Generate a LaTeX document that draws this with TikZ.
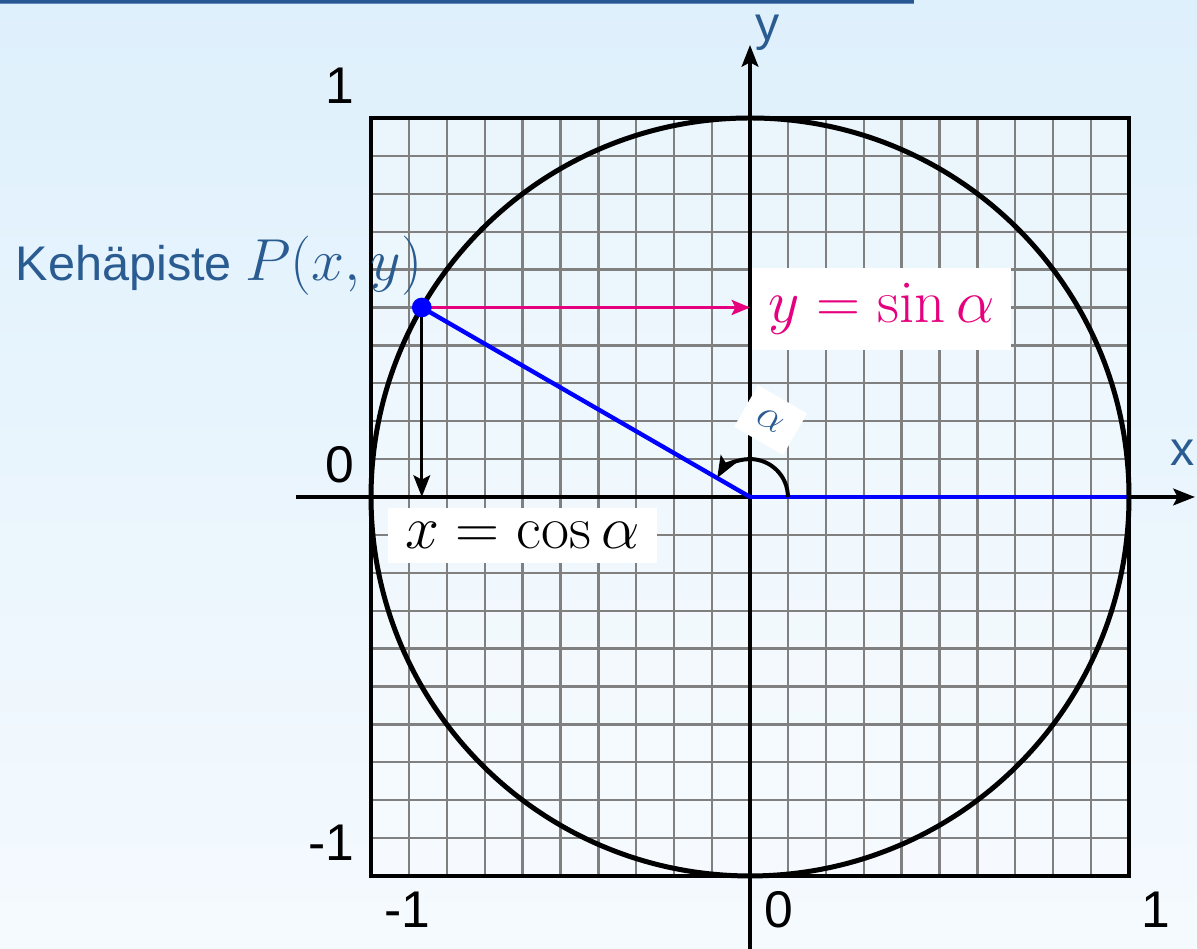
\RequirePackage{fix-cm}
\documentclass[tikz,border=0pt]{standalone}
\usepackage{fontspec}
\setsansfont{Liberation Sans}
\usetikzlibrary{arrows.meta,calc}
\definecolor{bgtop}{RGB}{222,240,252}
\definecolor{bgbot}{RGB}{245,250,254}
\definecolor{kblue}{RGB}{42,92,145}
\definecolor{mag}{RGB}{230,0,126}
\definecolor{topbar}{RGB}{40,88,145}
\definecolor{topbarlight}{RGB}{95,135,185}
\begin{document}
\begin{tikzpicture}[x=4cm,y=4cm,
  tip/.style={-{Stealth[length=6.5pt,width=5pt,inset=1.3pt]}},
  sanslbl/.style={font=\sffamily\fontsize{15.5}{18}\selectfont, inner sep=0pt},
  axlbl/.style={font=\sffamily\fontsize{14.5}{17}\selectfont, inner sep=0pt, text=kblue},
  mathbox/.style={fill=white, inner sep=0pt, font=\fontsize{18.3}{22}\selectfont}]
\useasboundingbox (-1.979,-1.1926) rectangle (1.1794,1.3113);
\shade[top color=bgtop,bottom color=bgbot] (-1.979,-1.1926) rectangle (1.1794,1.3113);
\fill[topbar] (-1.979,1.3113) rectangle (0.4327,1.3034);
\fill[topbarlight] (-1.979,1.3034) rectangle (0.4327,1.3007);

% square with grid
\fill[white,opacity=0.3] (-1,-1) rectangle (1,1);
\draw[gray, line width=0.7pt] (-1,-1) grid[step=0.1] (1,1);
\draw[line width=1.2pt] (-1,-1) rectangle (1,1);

% coordinates
\coordinate (O) at (0,0);
\coordinate (P) at (150:1);
\coordinate (A) at (1,0);
\coordinate (Xs) at (-1.198,0);
\coordinate (Xe) at (1.174,0);
\coordinate (Ys) at (0,-1.1926);
\coordinate (Ye) at (0,1.1926);
\coordinate (Px) at (P |- O);
\coordinate (Py) at (P -| O);
\coordinate (a0) at (0.1,0);

% axes
\draw[line width=1.1pt, tip] (Xs) -- (Xe);
\draw[line width=1.1pt, tip] (Ys) -- (Ye);

% blue radii
\draw[blue, line width=1.3pt] (O) -- (A);
\draw[blue, line width=1.3pt] (O) -- (P);

% unit circle
\draw[line width=1.5pt] (O) circle[radius=1];

% projections
\draw[mag, line width=1pt, -{Stealth[length=5.5pt,width=4.5pt,inset=1.1pt]}] (P) -- (Py);
\draw[line width=1pt, tip] (P) -- (Px);

% angle arc
\draw[line width=1.2pt, tip] (a0) arc[start angle=0,end angle=150,radius=0.1];

% point
\fill[blue] (P) circle[radius=0.026];

% tick labels
\node[sanslbl, anchor=base east] (ly1) at (-1.042, 1.037) {1};
\node[sanslbl, anchor=base east] (ly0) at (-1.042, 0.037) {0};
\node[sanslbl, anchor=base east] (lym) at (-1.042, -0.958) {-1};
\node[sanslbl, anchor=west] (lxm) at (-0.966,-1.0897) {-1};
\node[sanslbl, anchor=west] (lx0) at (0.037,-1.0897) {0};
\node[sanslbl, anchor=west] (lx1) at (1.032,-1.0897) {1};

% axis names
\node[axlbl] (xn) at (1.1425,0.1161) {x};
\node[axlbl] (yn) at (0.0475,1.225) {y};

% labels
\node[anchor=base east, inner sep=0pt, text=kblue] (kp) at ($(P)+(0.003,0.0712)$)
  {\sffamily\fontsize{14.6}{18}\selectfont Keh\"apiste\ \fontsize{17.8}{22}\selectfont$P(x,y)$};
\node[mathbox, text=mag, minimum width=77.7pt, minimum height=24.6pt] (ys) at (0.347,0.496) {$y=\sin\alpha$};
\node[mathbox, minimum width=80.7pt, minimum height=16.5pt] (xc) at (-0.6003,-0.1016) {$x=\cos\alpha$};
\node[fill=white, rotate=-30, minimum width=17pt, minimum height=14.4pt, inner sep=0pt,
  text=kblue, font=\fontsize{12.5}{14}\selectfont] (al) at (75:0.21) {$\alpha$};
\end{tikzpicture}
\end{document}
